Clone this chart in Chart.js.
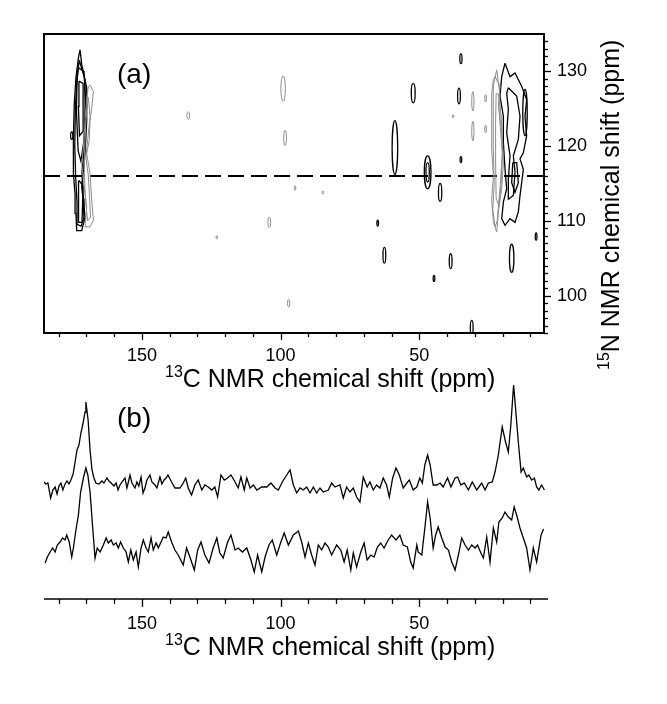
<!DOCTYPE html>
<html>
<head>
<meta charset="utf-8">
<script src="https://cdn.jsdelivr.net/npm/chart.js@4.4.1/dist/chart.umd.min.js"></script>
<style>
  body { margin:0; background:#fff; }
  #wrap { position:relative; width:667px; height:704px; background:#fff; }
  canvas { position:absolute; left:0; }
</style>
</head>
<body>
<div id="wrap">
  <canvas id="cTop" width="667" height="400" style="top:0px"></canvas>
  <canvas id="cBot" width="667" height="334" style="top:370px"></canvas>
</div>
<script>
// ---------------- DATA ----------------
// axis ticks (ppm)
const xTickVals = [180,170,160,150,140,130,120,110,100,90,80,70,60,50,40,30,20,10];
const xTickLabels = [150,100,50];
const yTickVals = [95,96,97,98,99,100,101,102,103,104,105,106,107,108,109,110,111,112,113,114,115,116,117,118,119,120,121,122,123,124,125,126,127,128,129,130,131,132,133,134];
const yTickLabels = [100,110,120,130];

// horizontal slice position (15N ppm)
const slicePos = 116;

// 2D contour outlines: [13C ppm, 15N ppm]
const leftBlackOuter = [[172.3,132.9],[171.7,130.9],[169.9,127.8],[169.9,123.4],[170.5,119.0],[171.1,116.7],[171.7,114.5],[171.1,112.7],[170.5,110.5],[171.7,108.7],[173.5,108.7],[173.8,111.0],[174.1,113.6],[174.7,116.3],[174.7,121.1],[174.4,125.6],[173.8,129.1],[172.9,131.8],[172.3,132.9]];
const leftBlackMid = [[172.6,131.5],[170.6,129.0],[170.4,124.0],[170.9,119.5],[171.6,116.5],[171.2,113.0],[170.9,110.5],[171.9,109.3],[173.2,109.5],[173.4,112.5],[173.9,116.0],[174.2,120.0],[174.0,125.0],[173.4,129.0],[172.6,131.5]];
const leftBlackInner1 = [[173.0,130.5],[170.9,130.0],[170.3,126.0],[170.9,120.7],[172.0,118.0],[173.0,119.4],[173.6,124.7],[173.4,128.7],[173.0,130.5]];
const leftBlackInner2 = [[172.7,128.7],[171.2,128.4],[171.2,122.0],[172.5,121.4],[172.9,125.3],[172.7,128.7]];
const leftBlackLower = [[172.7,115.4],[171.2,114.7],[171.6,109.8],[173.0,109.8],[173.0,112.7],[172.7,115.4]];
const leftGrey = [[168.7,128.2],[167.5,127.3],[168.1,125.1],[168.7,123.4],[169.0,120.7],[169.9,119.0],[168.7,116.3],[168.1,112.7],[167.5,110.1],[168.7,109.2],[170.5,109.2],[169.9,111.8],[171.1,115.4],[171.7,117.6],[171.1,119.8],[170.5,123.4],[169.9,126.4],[169.3,128.0],[168.7,128.2]];
const leftGreyInner = [[169.3,126.5],[168.7,124.0],[169.5,121.0],[170.2,118.5],[169.3,116.0],[168.8,112.5],[168.5,110.5],[169.6,110.0],[170.4,113.0],[170.8,117.0],[170.5,121.0],[170.0,124.5],[169.3,126.5]];
const rightBlackOuter = [[19.1,131.1],[17.3,129.3],[15.5,129.8],[13.1,128.0],[11.3,126.2],[11.9,124.0],[11.3,121.4],[12.5,119.1],[13.7,118.3],[12.5,116.9],[13.1,115.1],[13.7,113.4],[14.3,111.2],[15.5,109.8],[17.3,110.3],[19.1,109.4],[20.3,110.3],[19.7,112.5],[18.5,114.3],[19.1,116.9],[19.7,120.5],[19.7,124.0],[20.9,126.7],[20.3,129.3],[19.1,131.1]];
const rightBlackInner = [[17.9,127.8],[14.9,126.7],[13.7,124.0],[14.3,120.9],[16.1,118.7],[15.5,116.5],[16.1,113.4],[17.9,112.9],[17.9,115.6],[17.3,118.7],[18.5,121.8],[17.9,124.9],[18.5,127.1],[17.9,127.8]];
const rightBlackCore = [[16.3,117.8],[14.9,117.8],[14.3,115.1],[15.5,113.8],[16.7,115.1],[16.3,117.8]];
const rightGreyOuter = [[22.7,129.3],[20.9,128.0],[21.5,125.3],[20.3,121.8],[19.7,117.8],[20.3,114.3],[21.5,111.2],[22.1,108.5],[23.3,109.8],[23.9,112.9],[23.3,116.0],[23.9,119.6],[23.9,124.0],[23.9,127.1],[23.3,128.9],[22.7,129.3]];
const rightGreyMid = [[22.1,130.2],[21.0,127.0],[20.9,123.0],[20.1,119.0],[20.9,114.5],[21.9,110.0],[22.7,109.2],[23.5,111.5],[23.0,115.0],[23.3,119.5],[23.3,124.0],[23.4,128.0],[22.1,130.2]];
const rightGreyInner = [[21.5,127.0],[20.5,124.0],[19.9,120.0],[20.5,115.0],[21.3,112.0],[22.3,113.0],[22.5,118.0],[22.5,123.0],[22.3,127.0],[21.5,127.0]];

// isolated cross peaks: centre (13C, 15N), half-widths (ppm), sign (1 = black level, 0 = grey level)
const peakC     = [133.3, 99.1, 98.4, 104.1, 123.0, 97.1, 94.8, 84.8, 175.3, 35.0, 52.2, 35.7, 37.8, 58.8, 35.0, 47.0, 47.0, 42.5, 30.7, 30.7, 26.1, 26.1, 65.0, 62.6, 38.7, 44.7, 31.1, 16.7, 7.9, 11.9];
const peakN     = [124.1, 127.7, 121.1, 109.8, 107.8, 99.0, 114.4, 113.8, 121.4, 131.7, 127.1, 126.7, 124.0, 119.8, 118.2, 116.5, 116.5, 113.8, 126.0, 122.0, 126.4, 122.3, 109.7, 105.4, 104.6, 102.3, 95.7, 105.0, 107.9, 124.5];
const peakHalfC = [0.5, 0.8, 0.5, 0.5, 0.3, 0.4, 0.3, 0.3, 0.4, 0.4, 0.7, 0.5, 0.3, 1.0, 0.3, 1.2, 0.6, 0.6, 0.4, 0.4, 0.3, 0.3, 0.3, 0.5, 0.5, 0.3, 0.5, 0.8, 0.3, 0.8];
const peakHalfN = [0.5, 1.7, 1.0, 0.7, 0.2, 0.5, 0.3, 0.2, 0.5, 0.65, 1.3, 1.06, 0.2, 3.6, 0.4, 2.2, 1.3, 1.2, 1.3, 1.3, 0.5, 0.5, 0.4, 1.06, 1.0, 0.4, 1.0, 1.9, 0.5, 3.1];
const peakSign  = [0,0,0,0,0,0,0,0,1,1,1,1,0,1,1,1,1,1,0,0,0,0,1,1,1,1,1,1,1,1];

// 1D traces (b): 13C ppm and intensity (arb. units)
const upperC = [185.3,184.6,183.9,182.9,182.1,181.3,180.6,179.9,179.2,178.5,177.7,177.0,176.3,175.6,174.8,174.1,173.4,172.7,172.0,171.2,170.5,170.2,169.4,168.7,168.0,167.3,166.6,165.5,164.4,163.7,162.6,161.9,161.1,160.1,159.3,158.6,157.9,157.2,156.1,155.4,154.7,154.3,153.6,152.5,151.8,151.1,150.3,149.6,148.9,148.2,147.1,146.4,145.3,144.6,143.5,142.8,142.0,141.3,140.6,139.3,138.1,136.3,135.1,134.2,133.3,132.1,130.9,129.7,128.4,127.3,126.1,124.8,123.7,122.7,121.5,120.3,119.1,117.9,116.4,115.3,114.3,113.1,112.2,111.0,109.8,108.6,106.8,105.0,103.5,102.0,100.8,99.4,97.8,96.6,95.4,94.2,93.0,91.8,90.6,89.4,88.2,87.0,85.8,84.6,82.8,81.6,80.4,78.6,77.4,76.2,75.0,73.8,72.6,71.4,70.2,68.8,67.8,66.6,65.4,64.2,63.0,61.8,60.8,59.6,58.4,57.2,55.8,54.5,53.6,52.2,50.9,49.8,48.9,48.0,47.0,46.1,45.0,43.7,42.5,41.4,39.8,38.6,37.1,36.2,35.0,33.8,32.3,30.9,29.3,27.5,26.3,25.1,23.7,22.7,21.5,20.1,18.9,17.9,17.0,16.0,15.3,14.3,13.3,12.5,11.3,10.5,9.5,8.5,7.7,6.9,5.9,4.9];
const upperI = [118,116,117,102,110,113,106,114,117,110,116,119,116,120,126,138,150,155,167,177,188,198,180,150,130,122,117,116,119,117,122,119,117,114,117,110,115,118,122,112,120,125,117,112,118,114,123,107,112,120,125,118,115,112,123,116,120,122,125,118,112,112,117,122,112,105,115,120,110,115,113,110,113,103,125,120,122,125,118,112,123,110,122,112,115,110,113,113,117,112,110,118,125,130,115,107,112,110,113,107,113,107,112,108,110,117,113,115,102,113,108,112,103,98,123,113,118,110,115,112,122,115,103,122,132,125,112,117,120,110,113,122,117,135,145,135,115,115,117,113,122,113,122,123,115,117,110,118,110,117,110,117,118,128,145,173,158,148,175,215,192,158,128,132,123,125,120,122,113,110,115,110];
const lowerC = [184.9,184.1,183.1,182.2,181.3,180.5,179.5,178.6,177.7,177.1,176.2,175.3,174.7,173.9,172.9,172.1,171.1,170.2,169.5,168.7,167.9,166.9,166.1,165.1,163.9,162.9,162.1,161.1,160.3,159.3,158.5,157.7,156.7,155.7,154.9,154.0,153.1,152.1,151.3,150.3,149.5,148.5,147.7,146.7,145.9,144.9,144.1,143.1,142.3,141.3,140.5,139.3,138.1,136.9,135.1,133.9,132.7,131.1,129.9,128.7,127.3,125.8,124.3,123.0,121.9,120.7,119.1,117.9,116.4,115.3,113.8,112.2,110.7,109.5,108.3,106.8,105.6,104.2,103.0,101.4,99.9,98.7,97.2,95.4,93.6,92.4,91.2,90.0,88.8,87.6,86.4,85.2,84.0,82.8,81.6,79.8,78.3,77.1,76.0,74.7,73.8,72.6,71.1,69.9,68.8,67.5,66.3,65.1,63.9,62.7,61.2,60.0,58.4,57.0,55.8,54.3,53.1,52.2,50.9,50.4,49.1,48.0,47.0,46.1,45.0,44.1,43.2,41.9,40.7,39.5,38.3,37.1,35.9,34.7,33.5,32.3,31.1,29.9,29.0,27.8,26.9,25.7,24.5,23.3,22.1,21.3,20.1,19.1,17.9,16.7,15.8,14.9,13.7,12.5,11.3,10.1,8.9,7.7,6.1,5.2];
const lowerI = [37,43,48,52,48,55,58,62,60,65,58,43,52,68,85,108,122,132,125,108,78,42,52,48,55,62,57,60,55,57,52,58,52,48,38,50,40,48,33,52,60,52,48,62,50,57,52,58,63,62,68,58,50,45,35,52,43,30,50,58,45,37,52,62,47,42,58,65,50,52,48,52,40,28,45,28,43,55,60,45,58,67,55,65,69,58,43,57,45,35,55,50,57,53,45,55,50,38,50,30,47,33,48,57,40,45,43,53,57,52,60,65,60,65,55,53,38,32,55,48,45,72,98,82,52,65,73,62,53,50,38,30,45,62,55,50,55,52,55,47,42,63,38,72,58,78,82,88,83,80,93,85,72,62,52,30,52,38,65,71];

// ---------------- RENDERING ----------------
const FONT = "'Liberation Sans', Arial, Helvetica, sans-serif";
const pts = arr => arr.map(p => ({x: p[0], y: p[1]}));
const zip = (xs, ys) => xs.map((x, i) => ({x: x, y: ys[i]}));

function contour(arr, grey) {
  return { data: pts(arr), showLine: true, pointRadius: 0, fill: false,
           borderColor: grey ? '#8c8c8c' : '#000', borderWidth: grey ? 1 : 1.3, tension: 0 };
}

function drawSup(ctx, x, y, sup, main, supSize, mainSize, raise) {
  ctx.font = supSize + 'px ' + FONT;
  ctx.fillText(sup, x, y - raise);
  const w = ctx.measureText(sup).width;
  ctx.font = mainSize + 'px ' + FONT;
  ctx.fillText(main, x + w, y);
}

const tickFont = { family: FONT, size: 18 };

function xScaleOpts(min, max, pad) {
  return {
    type: 'linear', position: 'bottom', reverse: true, min: min, max: max,
    afterBuildTicks: s => { s.ticks = xTickVals.map(v => ({ value: v })); },
    afterFit: s => { s.height = 30; },
    ticks: { autoSkip: false, maxRotation: 0, minRotation: 0, padding: pad, color: '#000', font: tickFont,
             callback: v => xTickLabels.includes(v) ? String(v) : '' },
    grid: { drawOnChartArea: false, drawTicks: true, tickLength: 4, tickColor: 'rgba(0,0,0,0)' },
    border: { display: false }
  };
}

// ---- top chart: 2D contour map ----
const topDatasets = [
  contour(leftGrey, true), contour(leftGreyInner, true),
  contour(rightGreyOuter, true), contour(rightGreyMid, true), contour(rightGreyInner, true),
  contour(leftBlackOuter, false), contour(leftBlackMid, false), contour(leftBlackInner1, false), contour(leftBlackInner2, false), contour(leftBlackLower, false),
  contour(rightBlackOuter, false), contour(rightBlackInner, false), contour(rightBlackCore, false),
  { data: [{x: 185.3, y: slicePos}, {x: 5.05, y: slicePos}], showLine: true, pointRadius: 0,
    borderColor: '#000', borderWidth: 2, borderDash: [16, 7] }
];

const topPlugin = {
  id: 'topDecor',
  afterDatasetsDraw(chart) {
    const ctx = chart.ctx, a = chart.chartArea, xs = chart.scales.x, ys = chart.scales.y;
    ctx.save();
    ctx.beginPath(); ctx.rect(a.left, a.top, a.right - a.left, a.bottom - a.top); ctx.clip();
    for (let i = 0; i < peakC.length; i++) {
      const cx = xs.getPixelForValue(peakC[i]), cy = ys.getPixelForValue(peakN[i]);
      const rx = Math.abs(xs.getPixelForValue(peakC[i] + peakHalfC[i]) - cx);
      const ry = Math.abs(ys.getPixelForValue(peakN[i] + peakHalfN[i]) - cy);
      ctx.beginPath(); ctx.ellipse(cx, cy, rx, ry, 0, 0, Math.PI * 2);
      ctx.strokeStyle = peakSign[i] ? '#000' : '#8c8c8c';
      ctx.lineWidth = peakSign[i] ? 1.3 : 1;
      ctx.stroke();
    }
    ctx.restore();
  },
  afterDraw(chart) {
    const ctx = chart.ctx, a = chart.chartArea, xs = chart.scales.x, ys = chart.scales.y;
    ctx.save();
    ctx.strokeStyle = '#000'; ctx.lineWidth = 2;
    ctx.strokeRect(a.left, a.top, a.right - a.left, a.bottom - a.top);
    ctx.lineWidth = 1.3;
    xTickVals.forEach(v => {
      const px = Math.round(xs.getPixelForValue(v)) + 0.5;
      ctx.beginPath(); ctx.moveTo(px, a.bottom); ctx.lineTo(px, a.bottom + (xTickLabels.includes(v) ? 7 : 4)); ctx.stroke();
    });
    yTickVals.forEach(v => {
      const py = Math.round(ys.getPixelForValue(v)) + 0.5;
      ctx.beginPath(); ctx.moveTo(a.right, py); ctx.lineTo(a.right + (yTickLabels.includes(v) ? 7 : 4), py); ctx.stroke();
    });
    ctx.fillStyle = '#000'; ctx.textBaseline = 'alphabetic'; ctx.textAlign = 'left';
    ctx.font = '28px ' + FONT;
    ctx.fillText('(a)', 117, 83);
    drawSup(ctx, 165, 387, '13', 'C NMR chemical shift (ppm)', 16, 25, 10);
    ctx.translate(619, 370); ctx.rotate(-Math.PI / 2);
    drawSup(ctx, 0, 0, '15', 'N NMR chemical shift (ppm)', 16, 25, 10);
    ctx.restore();
  }
};

new Chart(document.getElementById('cTop').getContext('2d'), {
  type: 'scatter',
  data: { datasets: topDatasets },
  options: {
    responsive: false, animation: false, devicePixelRatio: 1,
    layout: { padding: { left: 44, top: 34, right: 73, bottom: 37 } },
    plugins: { legend: { display: false }, tooltip: { enabled: false } },
    scales: {
      x: xScaleOpts(5.05, 185.3, 8),
      y: {
        type: 'linear', position: 'right', min: 95, max: 135,
        afterBuildTicks: s => { s.ticks = yTickVals.map(v => ({ value: v })); },
        afterFit: s => { s.width = 50; },
        ticks: { autoSkip: false, padding: 9, color: '#000', font: tickFont,
                 callback: v => yTickLabels.includes(v) ? String(v) : '' },
        grid: { drawOnChartArea: false, drawTicks: true, tickLength: 4, tickColor: 'rgba(0,0,0,0)' },
        border: { display: false }
      }
    }
  },
  plugins: [topPlugin]
});

// ---- bottom chart: 1D traces ----
const botPlugin = {
  id: 'botDecor',
  afterDraw(chart) {
    const ctx = chart.ctx, a = chart.chartArea, xs = chart.scales.x;
    ctx.save();
    ctx.strokeStyle = '#000'; ctx.lineWidth = 1.6;
    ctx.beginPath(); ctx.moveTo(a.left, a.bottom); ctx.lineTo(a.right, a.bottom); ctx.stroke();
    ctx.lineWidth = 1.3;
    xTickVals.forEach(v => {
      const px = Math.round(xs.getPixelForValue(v)) + 0.5;
      ctx.beginPath(); ctx.moveTo(px, a.bottom); ctx.lineTo(px, a.bottom + (xTickLabels.includes(v) ? 8 : 5)); ctx.stroke();
    });
    ctx.fillStyle = '#000'; ctx.textBaseline = 'alphabetic'; ctx.textAlign = 'left';
    ctx.font = '28px ' + FONT;
    ctx.fillText('(b)', 117, 57);
    drawSup(ctx, 165, 285, '13', 'C NMR chemical shift (ppm)', 16, 25, 10);
    ctx.restore();
  }
};

new Chart(document.getElementById('cBot').getContext('2d'), {
  type: 'scatter',
  data: { datasets: [
    { data: zip(upperC, upperI), showLine: true, pointRadius: 0, borderColor: '#000', borderWidth: 1.3, tension: 0 },
    { data: zip(lowerC, lowerI), showLine: true, pointRadius: 0, borderColor: '#000', borderWidth: 1.3, tension: 0 }
  ] },
  options: {
    responsive: false, animation: false, devicePixelRatio: 1,
    layout: { padding: { left: 44, top: 10, right: 119, bottom: 75 } },
    plugins: { legend: { display: false }, tooltip: { enabled: false } },
    scales: {
      x: xScaleOpts(3.6, 185.3, 10),
      y: { display: false, min: 1, max: 220 }
    }
  },
  plugins: [botPlugin]
});
</script>
</body>
</html>
